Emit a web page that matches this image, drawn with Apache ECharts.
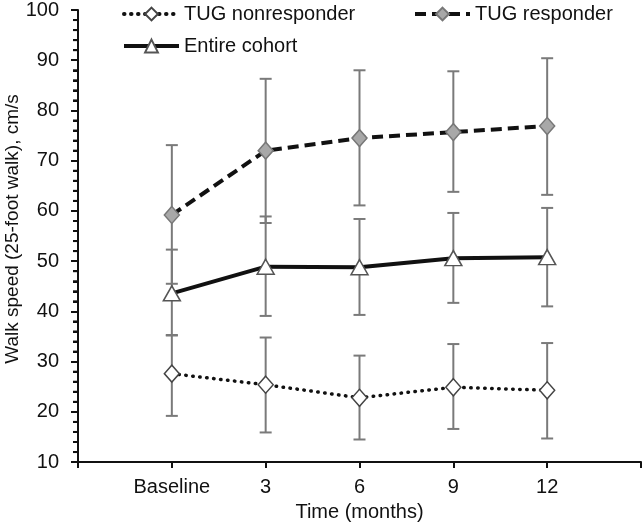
<!DOCTYPE html>
<html><head><meta charset="utf-8">
<script src="https://cdn.jsdelivr.net/npm/echarts@6/dist/echarts.min.js"></script>
<style>html,body{margin:0;padding:0;background:#fff}#c{width:644px;height:527px}</style>
</head><body><div id="c"></div>
<script>
const categories = ['Baseline', '3', '6', '9', '12'];
const yTicks = [10, 20, 30, 40, 50, 60, 70, 80, 90, 100];
const yMinorStep = 2;
const seriesNames = ['TUG nonresponder', 'TUG responder', 'Entire cohort'];
const nonMean = [27.6, 25.4, 22.8, 24.9, 24.3];
const nonLow  = [19.2, 15.9, 14.5, 16.6, 14.7];
const nonHigh = [35.2, 34.8, 31.2, 33.5, 33.7];
const resMean = [59.2, 72.0, 74.5, 75.7, 76.9];
const resLow  = [45.5, 57.6, 61.1, 63.8, 63.2];
const resHigh = [73.1, 86.3, 88.0, 87.8, 90.4];
const allMean = [43.6, 48.9, 48.8, 50.6, 50.8];
const allLow  = [35.3, 39.1, 39.3, 41.7, 41.0];
const allHigh = [52.3, 58.9, 58.4, 59.6, 60.6];

const FONT = '"Liberation Sans", Arial, sans-serif';
const chart = echarts.init(document.getElementById('c'), null, {renderer: 'canvas'});

const yMin = yTicks[0], yMax = yTicks[yTicks.length - 1];
const xMin = -1, xMax = 5;
const minorVals = [];
for (let v = yMin + yMinorStep; v < yMax; v += yMinorStep) {
  if (v % 10 !== 0) minorVals.push([xMin, v]);
}

function pts(arr) { return arr.map((v, i) => [i, v]); }
function errData(lo, hi) { return lo.map((v, i) => [i, v, hi[i]]); }
function errRender(params, api) {
  const x = api.value(0);
  const a = api.coord([x, api.value(1)]);
  const b = api.coord([x, api.value(2)]);
  const w = 6;
  const st = {stroke: '#7a7a7a', lineWidth: 2};
  return {type: 'group', children: [
    {type: 'line', shape: {x1: a[0], y1: a[1], x2: b[0], y2: b[1]}, style: st},
    {type: 'line', shape: {x1: a[0] - w, y1: a[1], x2: a[0] + w, y2: a[1]}, style: st},
    {type: 'line', shape: {x1: b[0] - w, y1: b[1], x2: b[0] + w, y2: b[1]}, style: st}
  ]};
}
function minorRender(params, api) {
  const p = api.coord([api.value(0), api.value(1)]);
  return {type: 'line', shape: {x1: p[0] - 5, y1: p[1], x2: p[0], y2: p[1]},
    style: {stroke: '#111', lineWidth: 2}};
}

const legendBase = {
  orient: 'horizontal', itemWidth: 55, itemHeight: 16, itemGap: 10,
  textStyle: {fontFamily: FONT, fontSize: 20, color: '#111'}, padding: 0,
  lineStyle: {width: 4}
};

chart.setOption({
  animation: false,
  backgroundColor: '#fff',
  grid: {left: 78, right: 3, top: 10, bottom: 56, containLabel: false},
  legend: [
    Object.assign({}, legendBase, {data: [seriesNames[0]], left: 122, top: 4}),
    Object.assign({}, legendBase, {data: [seriesNames[1]], left: 413, top: 4}),
    Object.assign({}, legendBase, {data: [seriesNames[2]], left: 122, top: 36})
  ],
  xAxis: {
    type: 'value', min: xMin, max: xMax, interval: 1,
    name: 'Time (months)', nameLocation: 'middle', nameGap: 37,
    nameTextStyle: {fontFamily: FONT, fontSize: 20, color: '#111'},
    axisLine: {show: true, onZero: false, lineStyle: {color: '#111', width: 2}},
    axisTick: {show: true, length: 6, lineStyle: {color: '#111', width: 2}},
    axisLabel: {
      fontFamily: FONT, fontSize: 20, color: '#111', margin: 15,
      showMinLabel: true, showMaxLabel: true,
      formatter: v => (categories[v] !== undefined ? categories[v] : '')
    },
    splitLine: {show: false}
  },
  yAxis: {
    type: 'value', min: yMin, max: yMax, interval: 10,
    axisLine: {show: true, onZero: false, lineStyle: {color: '#111', width: 2}},
    axisTick: {show: true, length: 7, lineStyle: {color: '#111', width: 2}},
    minorTick: {show: true, splitNumber: 5, length: 5, lineStyle: {color: '#111', width: 2}},
    axisLabel: {fontFamily: FONT, fontSize: 20, color: '#111', margin: 19},
    splitLine: {show: false}
  },
  graphic: [{
    type: 'text', x: 13, y: 229, rotation: Math.PI / 2,
    style: {text: 'Walk speed (25-foot walk), cm/s', font: '19px ' + FONT, fill: '#111',
      textAlign: 'center', textVerticalAlign: 'middle'}
  }],
  series: [
    {type: 'custom', name: 'minorTicks', renderItem: minorRender, data: minorVals, z: 5, silent: true, clip: false, encode: {x: 0, y: 1}},
    {type: 'custom', name: 'errNon', renderItem: errRender, data: errData(nonLow, nonHigh), z: 1, silent: true, encode: {x: 0, y: [1, 2]}},
    {type: 'custom', name: 'errRes', renderItem: errRender, data: errData(resLow, resHigh), z: 1, silent: true, encode: {x: 0, y: [1, 2]}},
    {type: 'custom', name: 'errAll', renderItem: errRender, data: errData(allLow, allHigh), z: 1, silent: true, encode: {x: 0, y: [1, 2]}},
    {
      type: 'line', name: seriesNames[0], data: pts(nonMean), z: 3,
      symbol: 'diamond', symbolSize: [15, 17],
      lineStyle: {color: '#111', width: 3.5, type: [0.5, 6.5], cap: 'round'},
      itemStyle: {color: '#fff', borderColor: '#444', borderWidth: 1.5}
    },
    {
      type: 'line', name: seriesNames[1], data: pts(resMean), z: 3,
      symbol: 'diamond', symbolSize: [15, 17],
      lineStyle: {color: '#111', width: 4, type: [11, 6]},
      itemStyle: {color: '#a8a8a8', borderColor: '#777', borderWidth: 1.5}
    },
    {
      type: 'line', name: seriesNames[2], data: pts(allMean), z: 3,
      symbol: 'triangle', symbolSize: [17, 15],
      lineStyle: {color: '#111', width: 4},
      itemStyle: {color: '#fff', borderColor: '#555', borderWidth: 1.5}
    }
  ]
});
</script></body></html>
